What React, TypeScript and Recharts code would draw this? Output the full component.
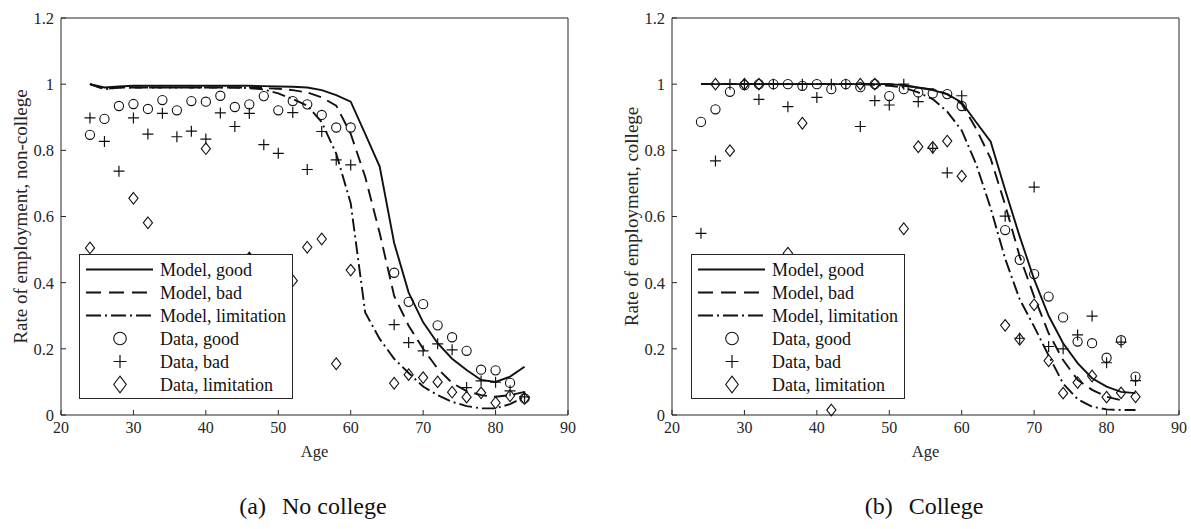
import React from 'react';
import { ComposedChart, Line, Scatter, XAxis, YAxis, Legend } from 'recharts';

const ages = [24, 26, 28, 30, 32, 34, 36, 38, 40, 42, 44, 46, 48, 50, 52, 54, 56, 58, 60, 62, 64, 66, 68, 70, 72, 74, 76, 78, 80, 82, 84];

const xTicks = [20, 30, 40, 50, 60, 70, 80, 90];
const yTicks = [0, 0.2, 0.4, 0.6, 0.8, 1, 1.2];

// no college
const ncModelGood = [1.0, 0.99, 0.993, 0.995, 0.995, 0.995, 0.995, 0.995, 0.995, 0.995, 0.995, 0.995, 0.994, 0.993, 0.992, 0.99, 0.982, 0.967, 0.947, 0.85, 0.751, 0.52, 0.37, 0.28, 0.217, 0.17, 0.136, 0.106, 0.1, 0.116, 0.146];
const ncModelBad = [1.0, 0.985, 0.99, 0.99, 0.99, 0.99, 0.99, 0.99, 0.99, 0.99, 0.99, 0.99, 0.988, 0.986, 0.982, 0.975, 0.96, 0.935, 0.85, 0.72, 0.55, 0.36, 0.27, 0.2, 0.14, 0.097, 0.072, 0.06, 0.055, 0.06, 0.07];
const ncModelLimit = [1.0, 0.985, 0.99, 0.99, 0.99, 0.99, 0.99, 0.99, 0.99, 0.99, 0.99, 0.988, 0.984, 0.972, 0.955, 0.935, 0.885, 0.79, 0.64, 0.31, 0.23, 0.17, 0.127, 0.086, 0.06, 0.04, 0.027, 0.02, 0.02, 0.033, 0.055];
const ncDataGood = [0.847, 0.895, 0.934, 0.94, 0.925, 0.952, 0.921, 0.949, 0.947, 0.965, 0.931, 0.939, 0.964, 0.921, 0.949, 0.939, 0.907, 0.869, 0.869, null, null, 0.43, 0.342, 0.335, 0.271, 0.235, 0.194, 0.137, 0.135, 0.097, 0.05];
const ncDataBad = [0.898, 0.827, 0.737, 0.898, 0.849, 0.912, 0.841, 0.858, 0.834, 0.913, 0.872, 0.912, 0.817, 0.791, 0.914, 0.742, 0.857, 0.771, 0.756, null, null, 0.273, 0.219, 0.194, 0.215, 0.197, 0.083, 0.103, 0.099, 0.073, 0.055];
const ncDataLimit = [0.505, null, null, 0.655, 0.581, null, null, null, 0.805, null, null, 0.475, null, null, 0.406, 0.507, 0.532, 0.155, 0.438, null, null, 0.096, 0.122, 0.113, 0.1, 0.069, 0.054, 0.067, 0.037, 0.058, 0.05];

// college
const cModelGood = [1, 1, 1, 1, 1, 1, 1, 1, 1, 1, 1, 1, 1, 1, 0.997, 0.99, 0.982, 0.97, 0.945, 0.885, 0.826, 0.68, 0.54, 0.41, 0.3, 0.217, 0.157, 0.111, 0.086, 0.07, 0.066];
const cModelBad = [1, 1, 1, 1, 1, 1, 1, 1, 1, 1, 1, 1, 1, 1, 0.995, 0.99, 0.984, 0.97, 0.94, 0.865, 0.775, 0.635, 0.48, 0.358, 0.247, 0.166, 0.106, 0.076, 0.055, 0.045, null];
const cModelLimit = [1, 1, 1, 1, 1, 1, 1, 1, 1, 1, 1, 1, 0.998, 0.995, 0.99, 0.975, 0.955, 0.917, 0.86, 0.758, 0.625, 0.472, 0.35, 0.267, 0.18, 0.095, 0.048, 0.025, 0.017, 0.015, 0.015];
const cDataGood = [0.886, 0.924, 0.977, 0.997, 1.0, 1.0, 1.0, 0.995, 1.0, 0.985, 1.0, 0.991, 1.0, 0.964, 0.985, 0.975, 0.972, 0.97, 0.934, null, null, 0.559, 0.469, 0.426, 0.358, 0.295, 0.222, 0.217, 0.173, 0.226, 0.116];
const cDataBad = [0.549, 0.768, 1.0, 1.0, 0.954, 1.0, 0.932, 1.0, 0.96, 1.0, 1.0, 0.872, 0.95, 0.937, 1.0, 0.947, 0.806, 0.732, 0.965, null, null, 0.601, 0.232, 0.689, 0.207, 0.2, 0.242, 0.299, 0.158, 0.22, 0.104];
const cDataLimit = [null, 1.0, 0.799, 1.0, 1.0, null, 0.489, 0.882, null, 0.015, null, 1.0, 1.0, null, 0.563, 0.811, 0.809, 0.828, 0.722, null, null, 0.271, 0.229, 0.333, 0.164, 0.066, 0.098, 0.118, 0.054, 0.067, 0.055];

const legendLabels = ['Model, good', 'Model, bad', 'Model, limitation', 'Data, good', 'Data, bad', 'Data, limitation'];

const ink = '#111';
const axisInk = '#262626';
const serif = '"Liberation Serif", "Times New Roman", serif';
const DASH = '13 7';
const DASH_DOT = '13 4 2 4';

type Row = Record<string, number | null>;

function buildRows(mg: any[], mb: any[], ml: any[], dg: any[], db: any[], dl: any[]): Row[] {
  return ages.map((age, i) => ({
    age,
    modelGood: mg[i],
    modelBad: mb[i],
    modelLimit: ml[i],
    dataGood: dg[i],
    dataBad: db[i],
    dataLimit: dl[i],
  }));
}

const nonCollegeRows = buildRows(ncModelGood, ncModelBad, ncModelLimit, ncDataGood, ncDataBad, ncDataLimit);
const collegeRows = buildRows(cModelGood, cModelBad, cModelLimit, cDataGood, cDataBad, cDataLimit);

// marker glyphs
const circleGlyph = (cx: number, cy: number, r: number) => (
  <circle cx={cx} cy={cy} r={r} fill="none" stroke={ink} strokeWidth={1.1} />
);
const plusGlyph = (cx: number, cy: number, h: number) => (
  <path d={`M${cx - h},${cy}H${cx + h}M${cx},${cy - h}V${cy + h}`} stroke={ink} strokeWidth={1.2} fill="none" />
);
const diamondGlyph = (cx: number, cy: number, w: number, h: number) => (
  <path d={`M${cx},${cy - h}L${cx + w},${cy}L${cx},${cy + h}L${cx - w},${cy}Z`} fill="none" stroke={ink} strokeWidth={1.1} />
);

const markShape = (key: string, kind: 'circle' | 'plus' | 'diamond') => (p: any) => {
  if (p.payload == null || p.payload[key] == null || p.cx == null || p.cy == null) return <g />;
  if (kind === 'circle') return circleGlyph(p.cx, p.cy, 4.6);
  if (kind === 'plus') return plusGlyph(p.cx, p.cy, 5.5);
  return diamondGlyph(p.cx, p.cy, 4.6, 5.8);
};

function LegendBox() {
  return (
    <svg width={214} height={145} style={{ display: 'block' }}>
      <rect x={0.5} y={0.5} width={213} height={144} fill="#fff" stroke={axisInk} strokeWidth={1} />
      {legendLabels.map((label, i) => {
        const y = 15.5 + i * 23;
        let sample: React.ReactNode = null;
        if (i === 0) sample = <line x1={7} x2={74} y1={y} y2={y} stroke={ink} strokeWidth={1.9} />;
        if (i === 1) sample = <line x1={7} x2={74} y1={y} y2={y} stroke={ink} strokeWidth={1.9} strokeDasharray="15 8" />;
        if (i === 2) sample = <line x1={7} x2={74} y1={y} y2={y} stroke={ink} strokeWidth={1.9} strokeDasharray="15 4 2 4" />;
        if (i === 3) sample = circleGlyph(41, y, 6.3);
        if (i === 4) sample = plusGlyph(41, y, 6.5);
        if (i === 5) sample = diamondGlyph(41, y, 6.3, 8.3);
        return (
          <g key={label}>
            {sample}
            <text x={81} y={y + 6} fontSize={18} fill={ink} fontFamily={serif}>{label}</text>
          </g>
        );
      })}
    </svg>
  );
}

const yTitle = (props: any) => {
  const vb = props.viewBox || {};
  const x = vb.x + 20;
  const y = vb.y + vb.height / 2;
  return (
    <text x={x} y={y} transform={`rotate(-90 ${x} ${y})`} textAnchor="middle" dominantBaseline="central"
      fontSize={19} fill={axisInk} fontFamily={serif}>
      {props.value}
    </text>
  );
};

function Panel({ rows, title, legendLeft }: { rows: Row[]; title: string; legendLeft: number }) {
  return (
    <ComposedChart width={580} height={470} data={rows} margin={{ top: 17, right: 11, bottom: 0, left: 0 }}>
      <XAxis dataKey="age" type="number" domain={[20, 90]} ticks={xTicks} height={55}
        stroke={axisInk} tickSize={-5} tickMargin={12}
        tick={{ fontSize: 16, fill: axisInk, fontFamily: serif }}
        label={{ value: 'Age', position: 'insideBottom', offset: 13, fontSize: 16.5, fill: axisInk, fontFamily: serif }} />
      <XAxis xAxisId="top" orientation="top" type="number" domain={[20, 90]} ticks={xTicks} height={1}
        stroke={axisInk} tickSize={-5} tick={false} />
      <YAxis type="number" domain={[0, 1.2]} ticks={yTicks} width={61}
        stroke={axisInk} tickSize={-5} tickMargin={12}
        tick={{ fontSize: 16.5, fill: axisInk, fontFamily: serif }}
        label={{ value: title, content: yTitle }} />
      <YAxis yAxisId="right" orientation="right" type="number" domain={[0, 1.2]} ticks={yTicks} width={1}
        stroke={axisInk} tickSize={-5} tick={false} />

      <Line dataKey="modelGood" type="linear" stroke={ink} strokeWidth={1.9} dot={false} activeDot={false} isAnimationActive={false} />
      <Line dataKey="modelBad" type="linear" stroke={ink} strokeWidth={1.9} strokeDasharray={DASH} dot={false} activeDot={false} isAnimationActive={false} />
      <Line dataKey="modelLimit" type="linear" stroke={ink} strokeWidth={1.9} strokeDasharray={DASH_DOT} dot={false} activeDot={false} isAnimationActive={false} />

      <Scatter dataKey="dataGood" shape={markShape('dataGood', 'circle')} isAnimationActive={false} />
      <Scatter dataKey="dataBad" shape={markShape('dataBad', 'plus')} isAnimationActive={false} />
      <Scatter dataKey="dataLimit" shape={markShape('dataLimit', 'diamond')} isAnimationActive={false} />

      <Legend layout="vertical" align="center" verticalAlign="middle"
        wrapperStyle={{ left: legendLeft, top: 254, width: 214, height: 145 }}
        content={() => <LegendBox />} />
    </ComposedChart>
  );
}

export default function App() {
  return (
    <div style={{ position: 'absolute', left: 0, top: 0, width: 1191, height: 529, background: '#fff', fontFamily: serif }}>
      <div style={{ position: 'absolute', left: 0, top: 0 }}>
        <Panel rows={nonCollegeRows} title="Rate of employment, non-college" legendLeft={79} />
      </div>
      <div style={{ position: 'absolute', left: 611, top: 0 }}>
        <Panel rows={collegeRows} title="Rate of employment, college" legendLeft={80} />
      </div>
      <svg width={1191} height={59} style={{ position: 'absolute', left: 0, top: 470 }}>
        <text x={313} y={44} textAnchor="middle" fontSize={24} fill={ink} fontFamily={serif}>
          (a)<tspan dx={16}>No college</tspan>
        </text>
        <text x={924} y={44} textAnchor="middle" fontSize={24} fill={ink} fontFamily={serif}>
          (b)<tspan dx={16}>College</tspan>
        </text>
      </svg>
    </div>
  );
}
